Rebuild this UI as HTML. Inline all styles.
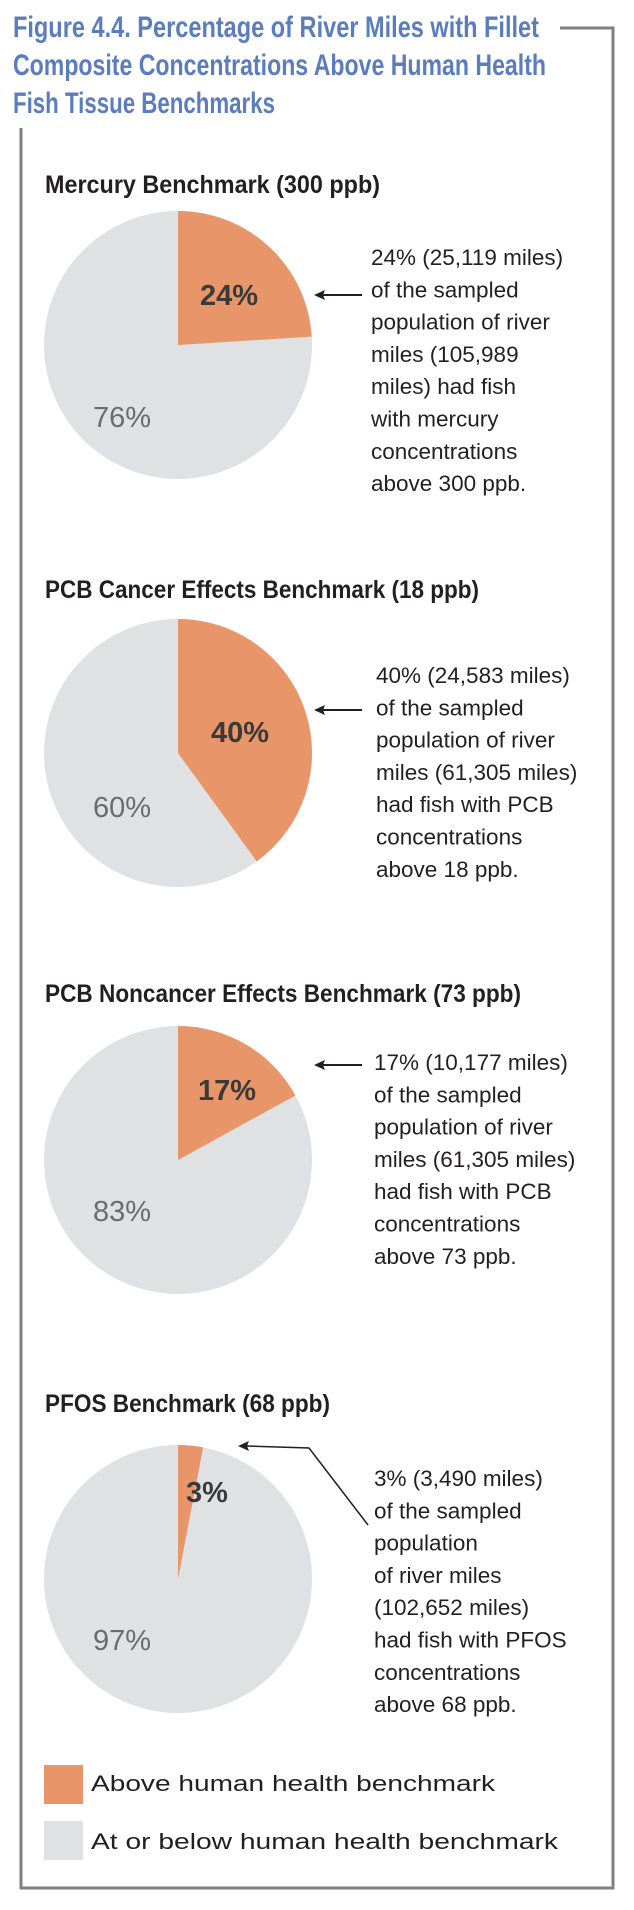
<!DOCTYPE html>
<html><head><meta charset="utf-8"><style>
html,body{margin:0;padding:0;background:#fff;}
svg{display:block;}
.t{font-family:"Liberation Sans Narrow","Liberation Sans",sans-serif;font-weight:bold;}
.b{font-family:"Liberation Sans",sans-serif;font-size:22.5px;fill:#231f20;}
</style></head><body>
<svg id="chart" width="634" height="1910" viewBox="0 0 634 1910" xmlns="http://www.w3.org/2000/svg">
<g class="t" fill="#5b7dbd" font-size="30">
<text x="13" y="37" textLength="526" lengthAdjust="spacingAndGlyphs">Figure 4.4. Percentage of River Miles with Fillet</text>
<text x="13" y="75" textLength="533" lengthAdjust="spacingAndGlyphs">Composite Concentrations Above Human Health</text>
<text x="13" y="113" textLength="262" lengthAdjust="spacingAndGlyphs">Fish Tissue Benchmarks</text>
</g>
<path d="M560 28 H613 V1888 H21 V128" fill="none" stroke="#808083" stroke-width="3"/>
<g id="pies"></g>
<g>
<rect x="44" y="1765" width="39" height="39" fill="#e8956a"/>
<text class="b" x="91" y="1791" font-size="27" textLength="404" lengthAdjust="spacingAndGlyphs">Above human health benchmark</text>
<rect x="44" y="1821" width="39" height="39" fill="#e0e1e3"/>
<text class="b" x="91" y="1849" font-size="27" textLength="467" lengthAdjust="spacingAndGlyphs">At or below human health benchmark</text>
</g>
</svg>
<script>
const titles = ["Mercury Benchmark (300 ppb)","PCB Cancer Effects Benchmark (18 ppb)","PCB Noncancer Effects Benchmark (73 ppb)","PFOS Benchmark (68 ppb)"];
const abovePct = [24, 40, 17, 3];
const belowPct = [76, 60, 83, 97];
const notes = [
 ["24% (25,119 miles)","of the sampled","population of river","miles (105,989","miles) had fish","with mercury","concentrations","above 300 ppb."],
 ["40% (24,583 miles)","of the sampled","population of river","miles (61,305 miles)","had fish with PCB","concentrations","above 18 ppb."],
 ["17% (10,177 miles)","of the sampled","population of river","miles (61,305 miles)","had fish with PCB","concentrations","above 73 ppb."],
 ["3% (3,490 miles)","of the sampled","population","of river miles","(102,652 miles)","had fish with PFOS","concentrations","above 68 ppb."]
];
// layout (not data)
const L = [
 {ty:193,tw:335,cy:345,ax:200,ay:305,by:427,nx:371,ny:265,arrowY:295},
 {ty:598,tw:434,cy:753,ax:211,ay:742,by:817,nx:376,ny:683,arrowY:710},
 {ty:1002,tw:476,cy:1160,ax:198,ay:1100,by:1221,nx:374,ny:1070,arrowY:1065},
 {ty:1412,tw:285,cy:1579,ax:186,ay:1502,by:1650,nx:374,ny:1486,arrowY:null}
];
const NS="http://www.w3.org/2000/svg";
const root=document.getElementById('pies');
const CX=178,R=134;
function mk(tag,attrs,parent){const e=document.createElementNS(NS,tag);for(const k in attrs)e.setAttribute(k,attrs[k]);parent.appendChild(e);return e;}
function pt(cy,frac){const a=frac*2*Math.PI;return [CX+R*Math.sin(a),cy-R*Math.cos(a)];}
abovePct.forEach((v,i)=>{
 const l=L[i];
 const g=mk('g',{},root);
 
 
 const t=mk('text',{x:45,y:l.ty,'font-size':25,fill:'#231f20',class:'t',textLength:l.tw,lengthAdjust:'spacingAndGlyphs'},g);
 t.textContent=titles[i];
 
 
 const bg=mk('circle',{cx:CX,cy:l.cy,r:R,fill:'#e0e1e3'},g);
 
 
 const f=v/(v+belowPct[i]);
 const p=pt(l.cy,f);
 const s=mk('path',{d:`M${CX} ${l.cy} L${CX} ${l.cy-R} A${R} ${R} 0 ${f>0.5?1:0} 1 ${p[0]} ${p[1]} Z`,fill:'#e8956a'},g);
 
 
 const a=mk('text',{x:l.ax,y:l.ay,'font-family':'Liberation Sans, sans-serif','font-weight':'bold','font-size':29,fill:'#3a3a3a'},g);
 a.textContent=v+'%';
 
 
 const b=mk('text',{x:93,y:l.by,'font-family':'Liberation Sans, sans-serif','font-size':29,fill:'#6b6b6b'},g);
 b.textContent=belowPct[i]+'%';
 
 
 const n=mk('text',{class:'b'},g);
 
 
 notes[i].forEach((line,j)=>{const ts=mk('tspan',{x:l.nx,y:l.ny+j*32.3},n);ts.textContent=line;});
 const ar=mk('g',{},g);
 
 
 if(l.arrowY!==null){
  mk('line',{x1:322,y1:l.arrowY,x2:362,y2:l.arrowY,stroke:'#231f20','stroke-width':2},ar);
  mk('path',{d:`M314 ${l.arrowY} L325 ${l.arrowY-5} L323 ${l.arrowY} L325 ${l.arrowY+5} Z`,fill:'#231f20'},ar);
 } else {
  mk('polyline',{points:'246,1446 309,1448 368,1525',fill:'none',stroke:'#231f20','stroke-width':1.5},ar);
  mk('path',{d:'M238 1446 L249 1441 L247 1446 L249 1451 Z',fill:'#231f20'},ar);
 }
});
</script>
</body></html>
